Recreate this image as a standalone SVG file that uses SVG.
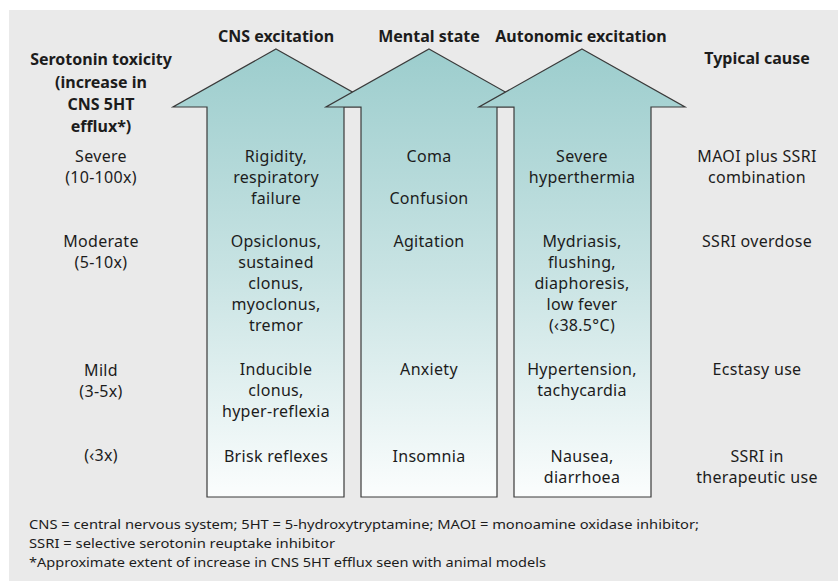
<svg xmlns="http://www.w3.org/2000/svg" width="838" height="581" viewBox="0 0 838 581">
<defs>
<linearGradient id="g" gradientUnits="userSpaceOnUse" x1="0" y1="49" x2="0" y2="497">
<stop offset="0" stop-color="#9ccdcd"/>
<stop offset="0.5" stop-color="#c8e3e3"/>
<stop offset="1" stop-color="#fbfdfd"/>
</linearGradient>
<style>
.arrow{fill:url(#g);stroke:#3a3a3a;stroke-width:1.2;stroke-linejoin:miter}
text{font-family:"Noto Sans","Open Sans","Liberation Sans",sans-serif;fill:#1c1c1c}
.h{font-size:16px;font-weight:bold;text-anchor:middle}
.b{font-size:16px;text-anchor:middle;letter-spacing:0.3px}
.f{font-size:13px}
</style>
</defs>
<rect x="0" y="0" width="838" height="581" fill="#ffffff"/>
<rect x="9" y="10" width="829" height="571" fill="#eaeaea"/>

<g id="arrow-cns">
<path class="arrow" d="M276,49 L379,107 L344,107 L344,497 L207,497 L207,107 L173,107 Z"/>
</g>
<g id="arrow-mental">
<path class="arrow" d="M429,49 L532,107 L497,107 L497,497 L361,497 L361,107 L326,107 Z"/>
</g>
<g id="arrow-autonomic">
<path class="arrow" d="M582,49 L685,107 L651,107 L651,497 L514,497 L514,107 L479,107 Z"/>
</g>

<g id="headings">
<text class="h" x="276" y="42">CNS excitation</text>
<text class="h" x="429" y="42">Mental state</text>
<text class="h" x="581" y="42">Autonomic excitation</text>
<text class="h" x="757" y="64">Typical cause</text>
<text class="h" x="101" y="65">Serotonin toxicity</text>
<text class="h" x="101" y="88">(increase in</text>
<text class="h" x="101" y="110">CNS 5HT</text>
<text class="h" x="101" y="132">efflux*)</text>
</g>

<g id="severity">
<text class="b" x="101" y="162">Severe</text>
<text class="b" x="101" y="183">(10-100x)</text>
<text class="b" x="101" y="247">Moderate</text>
<text class="b" x="101" y="268">(5-10x)</text>
<text class="b" x="101" y="376">Mild</text>
<text class="b" x="101" y="397">(3-5x)</text>
<text class="b" x="101" y="461">(‹3x)</text>
</g>

<g id="cns-text">
<text class="b" x="276" y="162">Rigidity,</text>
<text class="b" x="276" y="183">respiratory</text>
<text class="b" x="276" y="204">failure</text>
<text class="b" x="276" y="247">Opsiclonus,</text>
<text class="b" x="276" y="268">sustained</text>
<text class="b" x="276" y="289">clonus,</text>
<text class="b" x="276" y="310">myoclonus,</text>
<text class="b" x="276" y="331">tremor</text>
<text class="b" x="276" y="375">Inducible</text>
<text class="b" x="276" y="396">clonus,</text>
<text class="b" x="276" y="417">hyper-reflexia</text>
<text class="b" x="276" y="462">Brisk reflexes</text>
</g>

<g id="mental-text">
<text class="b" x="429" y="162">Coma</text>
<text class="b" x="429" y="204">Confusion</text>
<text class="b" x="429" y="247">Agitation</text>
<text class="b" x="429" y="375">Anxiety</text>
<text class="b" x="429" y="462">Insomnia</text>
</g>

<g id="autonomic-text">
<text class="b" x="582" y="162">Severe</text>
<text class="b" x="582" y="183">hyperthermia</text>
<text class="b" x="582" y="247">Mydriasis,</text>
<text class="b" x="582" y="268">flushing,</text>
<text class="b" x="582" y="289">diaphoresis,</text>
<text class="b" x="582" y="310">low fever</text>
<text class="b" x="582" y="331">(‹38.5°C)</text>
<text class="b" x="582" y="375">Hypertension,</text>
<text class="b" x="582" y="396">tachycardia</text>
<text class="b" x="582" y="462">Nausea,</text>
<text class="b" x="582" y="483">diarrhoea</text>
</g>

<g id="cause-text">
<text class="b" x="757" y="162">MAOI plus SSRI</text>
<text class="b" x="757" y="183">combination</text>
<text class="b" x="757" y="247">SSRI overdose</text>
<text class="b" x="757" y="375">Ecstasy use</text>
<text class="b" x="757" y="462">SSRI in</text>
<text class="b" x="757" y="483">therapeutic use</text>
</g>

<g id="footnote">
<text class="f" x="29" y="529" textLength="670" lengthAdjust="spacingAndGlyphs">CNS = central nervous system; 5HT = 5-hydroxytryptamine; MAOI = monoamine oxidase inhibitor;</text>
<text class="f" x="29" y="548" textLength="306" lengthAdjust="spacingAndGlyphs">SSRI = selective serotonin reuptake inhibitor</text>
<text class="f" x="29" y="567" textLength="517" lengthAdjust="spacingAndGlyphs">*Approximate extent of increase in CNS 5HT efflux seen with animal models</text>
</g>
</svg>
